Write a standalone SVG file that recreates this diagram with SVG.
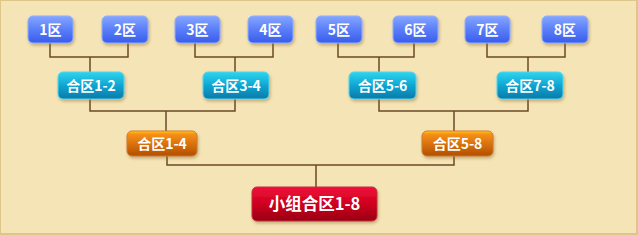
<svg xmlns="http://www.w3.org/2000/svg" width="638" height="235" viewBox="0 0 638 235">
<defs>
<linearGradient id="gBlue" x1="0" y1="0" x2="0" y2="1"><stop offset="0" stop-color="#86a6ff"/><stop offset="0.5" stop-color="#5a7ef8"/><stop offset="1" stop-color="#3a5cec"/></linearGradient>
<linearGradient id="gCyan" x1="0" y1="0" x2="0" y2="1"><stop offset="0" stop-color="#2fd4ee"/><stop offset="0.5" stop-color="#0fa6d2"/><stop offset="1" stop-color="#0878a8"/></linearGradient>
<linearGradient id="gOrange" x1="0" y1="0" x2="0" y2="1"><stop offset="0" stop-color="#ffd21a"/><stop offset="0.12" stop-color="#f89018"/><stop offset="1" stop-color="#b24e00"/></linearGradient>
<linearGradient id="gRed" x1="0" y1="0" x2="0" y2="1"><stop offset="0" stop-color="#f0103a"/><stop offset="0.5" stop-color="#cf0020"/><stop offset="1" stop-color="#980010"/></linearGradient>
<filter id="sh" x="-20%" y="-30%" width="140%" height="170%"><feDropShadow dx="1" dy="2" stdDeviation="1.5" flood-color="#8a6a30" flood-opacity="0.45"/></filter>
</defs>
<style>
.bg{fill:#f5e4b6;stroke:#dcc68a;stroke-width:2}
.blue{fill:url(#gBlue);stroke:#8fb0ff;stroke-width:1;filter:url(#sh)}
.cyan{fill:url(#gCyan);stroke:#4fd8f0;stroke-width:1;filter:url(#sh)}
.orange{fill:url(#gOrange);stroke:#d07a30;stroke-width:1;filter:url(#sh)}
.red{fill:url(#gRed);stroke:#c03040;stroke-width:1;filter:url(#sh)}
text{font-family:"Noto Sans CJK SC","DejaVu Sans",sans-serif;font-weight:bold;fill:#fff;text-anchor:middle;font-size:14px}
.big{font-size:16.5px}
.con{fill:none;stroke:#6b4a28;stroke-width:1.5}
</style>
<rect class="bg" x="0" y="0" width="637" height="234"/>
<g id="connectors" class="con">
<path d="M50 43V57H128V43M90 57V72"/>
<path d="M195 43V57H273V43M235 57V72"/>
<path d="M338 43V57H414V43M379 57V72"/>
<path d="M487 43V57H565V43M528 57V72"/>
<path d="M90 99V111H235V99M166 111V131"/>
<path d="M379 99V111H528V99M454 111V131"/>
<path d="M167 156V165H454V156M316 165V187"/>
</g>
<g id="n1"><rect class="blue" x="28" y="16" width="45" height="27" rx="5"/><text x="50.5" y="35">1区</text></g>
<g id="n2"><rect class="blue" x="102" y="16" width="46" height="27" rx="5"/><text x="125" y="35">2区</text></g>
<g id="n3"><rect class="blue" x="175" y="16" width="45" height="27" rx="5"/><text x="197.5" y="35">3区</text></g>
<g id="n4"><rect class="blue" x="248" y="16" width="45" height="27" rx="5"/><text x="270.5" y="35">4区</text></g>
<g id="n5"><rect class="blue" x="316" y="16" width="46" height="27" rx="5"/><text x="339" y="35">5区</text></g>
<g id="n6"><rect class="blue" x="393" y="16" width="45" height="27" rx="5"/><text x="415.5" y="35">6区</text></g>
<g id="n7"><rect class="blue" x="465" y="16" width="45" height="27" rx="5"/><text x="487.5" y="35">7区</text></g>
<g id="n8"><rect class="blue" x="542" y="16" width="46" height="27" rx="5"/><text x="565" y="35">8区</text></g>
<g id="m12"><rect class="cyan" x="58" y="72" width="66" height="27" rx="5"/><text x="91" y="91">合区1-2</text></g>
<g id="m34"><rect class="cyan" x="203" y="72" width="66" height="27" rx="5"/><text x="236" y="91">合区3-4</text></g>
<g id="m56"><rect class="cyan" x="349" y="72" width="67" height="27" rx="5"/><text x="382.5" y="91">合区5-6</text></g>
<g id="m78"><rect class="cyan" x="497" y="72" width="66" height="27" rx="5"/><text x="530" y="91">合区7-8</text></g>
<g id="h14"><rect class="orange" x="127" y="131" width="70" height="25" rx="5"/><text x="162" y="148.5">合区1-4</text></g>
<g id="h58"><rect class="orange" x="422" y="131" width="71" height="25" rx="5"/><text x="457.5" y="148.5">合区5-8</text></g>
<g id="f18"><rect class="red" x="252" y="187" width="125" height="34" rx="5"/><text class="big" x="314.5" y="210">小组合区1-8</text></g>
</svg>
